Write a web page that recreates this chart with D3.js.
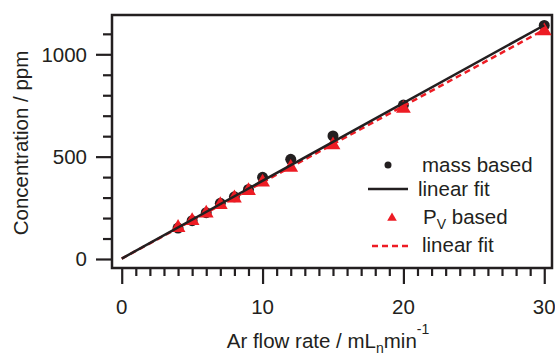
<!DOCTYPE html>
<html>
<head>
<meta charset="utf-8">
<script src="https://cdn.jsdelivr.net/npm/d3@7"></script>
<style>
    body { margin: 0; background: #fff; }
    svg { display: block; font-family: "Liberation Sans", Arial, sans-serif; }
</style>
</head>
<body>
<div id="chart"></div>
<script>
// flow rates (mL_n/min)
const flowRates = [4, 5, 6, 7, 8, 9, 10, 12, 15, 20, 30];
// concentration from mass
const massBased = [151, 187, 226, 272, 304, 340, 399, 487, 601, 752, 1141];
// concentration from P_V
const pvBased = [158, 192, 228, 270, 302, 338, 380, 452, 562, 740, 1119];
// linear fit end points
const fitX = [0, 30];
const massFit = [2, 1142];
const pvFit = [2, 1120];

const xTicks = [0, 10, 20, 30];
const yTicks = [0, 500, 1000];

const width = 555, height = 354;
const ink = "#231f20", red = "#ed1c24";
const fs = 20.5;

const svg = d3.select("#chart").append("svg")
    .attr("width", width)
    .attr("height", height);

const x = d3.scaleLinear().domain([-0.69, 30.55]).range([112, 552]);
const y = d3.scaleLinear().domain([-44, 1192]).range([268, 15]);

// axes, ticks outside the frame
let xAxis = svg.append("g").attr("transform", "translate(0,268)");
xAxis.call(d3.axisBottom(x).tickValues(d3.range(0, 31, 1)).tickSize(8).tickFormat(""));
xAxis.call(g => g.selectAll(".tick line")
    .filter(d => d % 10 === 0).attr("y2", 16));
xAxis.selectAll(".tick line").attr("stroke", ink).attr("stroke-width", 2.2);
xAxis.select(".domain").remove();
xAxis.selectAll(".lbl")
    .data(xTicks)
    .enter().append("text")
    .attr("x", d => x(d))
    .attr("y", 46)
    .attr("text-anchor", "middle")
    .attr("font-size", fs)
    .attr("fill", ink)
    .text(d => d);

let yAxis = svg.append("g").attr("transform", "translate(112,0)");
yAxis.call(d3.axisLeft(y).tickValues(d3.range(0, 1101, 100)).tickSize(9).tickFormat(""));
yAxis.call(g => g.selectAll(".tick line")
    .filter(d => d % 500 === 0).attr("x2", -16));
yAxis.selectAll(".tick line").attr("stroke", ink).attr("stroke-width", 2.2);
yAxis.select(".domain").remove();
yAxis.selectAll(".lbl")
    .data(yTicks)
    .enter().append("text")
    .attr("x", -25)
    .attr("y", d => y(d))
    .attr("dy", "0.36em")
    .attr("text-anchor", "end")
    .attr("font-size", fs)
    .attr("fill", ink)
    .text(d => d);

// frame
svg.append("rect")
    .attr("x", 112).attr("y", 15)
    .attr("width", 440).attr("height", 253)
    .attr("fill", "none")
    .attr("stroke", ink)
    .attr("stroke-width", 2.5);

const tri = d3.symbol().type(d3.symbolTriangle).size(95);

// data marks
svg.selectAll(".mass")
    .data(flowRates)
    .enter().append("circle")
    .attr("class", "mass")
    .attr("cx", d => x(d))
    .attr("cy", (d, i) => y(massBased[i]))
    .attr("r", 5.5)
    .attr("fill", ink);

svg.selectAll(".pv")
    .data(flowRates)
    .enter().append("path")
    .attr("class", "pv")
    .attr("d", tri)
    .attr("transform", (d, i) => `translate(${x(d)},${y(pvBased[i]) + 1})`)
    .attr("fill", red);

let line = d3.line().x(d => x(d[0])).y(d => y(d[1]));

svg.append("path")
    .attr("d", line(d3.zip(fitX, pvFit)))
    .attr("fill", "none")
    .attr("stroke", red)
    .attr("stroke-width", 2.5)
    .attr("stroke-dasharray", "6,4");

svg.append("path")
    .attr("d", line(d3.zip(fitX, massFit)))
    .attr("fill", "none")
    .attr("stroke", ink)
    .attr("stroke-width", 2.5);

// legend
let legend = svg.append("g").attr("font-size", fs).attr("fill", ink);
legend.append("circle").attr("cx", 388).attr("cy", 165).attr("r", 3.5).attr("fill", ink);
legend.append("text").attr("x", 422).attr("y", 172).text("mass based");
legend.append("line").attr("x1", 368).attr("x2", 408).attr("y1", 189).attr("y2", 189)
    .attr("stroke", ink).attr("stroke-width", 2.5);
legend.append("text").attr("x", 418).attr("y", 196).text("linear fit");
legend.append("path").attr("d", d3.symbol().type(d3.symbolTriangle).size(40))
    .attr("transform", "translate(392,218)").attr("fill", red);
let pvText = legend.append("text").attr("x", 423).attr("y", 224);
pvText.append("tspan").text("P");
pvText.append("tspan").attr("font-size", 14).attr("dy", 5).text("V");
pvText.append("tspan").attr("dy", -5).text(" based");
legend.append("line").attr("x1", 372).attr("x2", 410).attr("y1", 246).attr("y2", 246)
    .attr("stroke", red).attr("stroke-width", 2.5).attr("stroke-dasharray", "6,4");
legend.append("text").attr("x", 422).attr("y", 252).text("linear fit");

// axis titles
let xt = svg.append("text")
    .attr("x", 328).attr("y", 348)
    .attr("text-anchor", "middle")
    .attr("font-size", fs)
    .attr("fill", ink);
xt.append("tspan").text("Ar flow rate / mL");
xt.append("tspan").attr("font-size", 14).attr("dy", 5).text("n");
xt.append("tspan").attr("dy", -5).text("min");
xt.append("tspan").attr("font-size", 14).attr("dy", -14).text("-1");

svg.append("text")
    .attr("transform", "translate(28,143) rotate(-90)")
    .attr("text-anchor", "middle")
    .attr("font-size", fs)
    .attr("fill", ink)
    .text("Concentration / ppm");
</script>
</body>
</html>
